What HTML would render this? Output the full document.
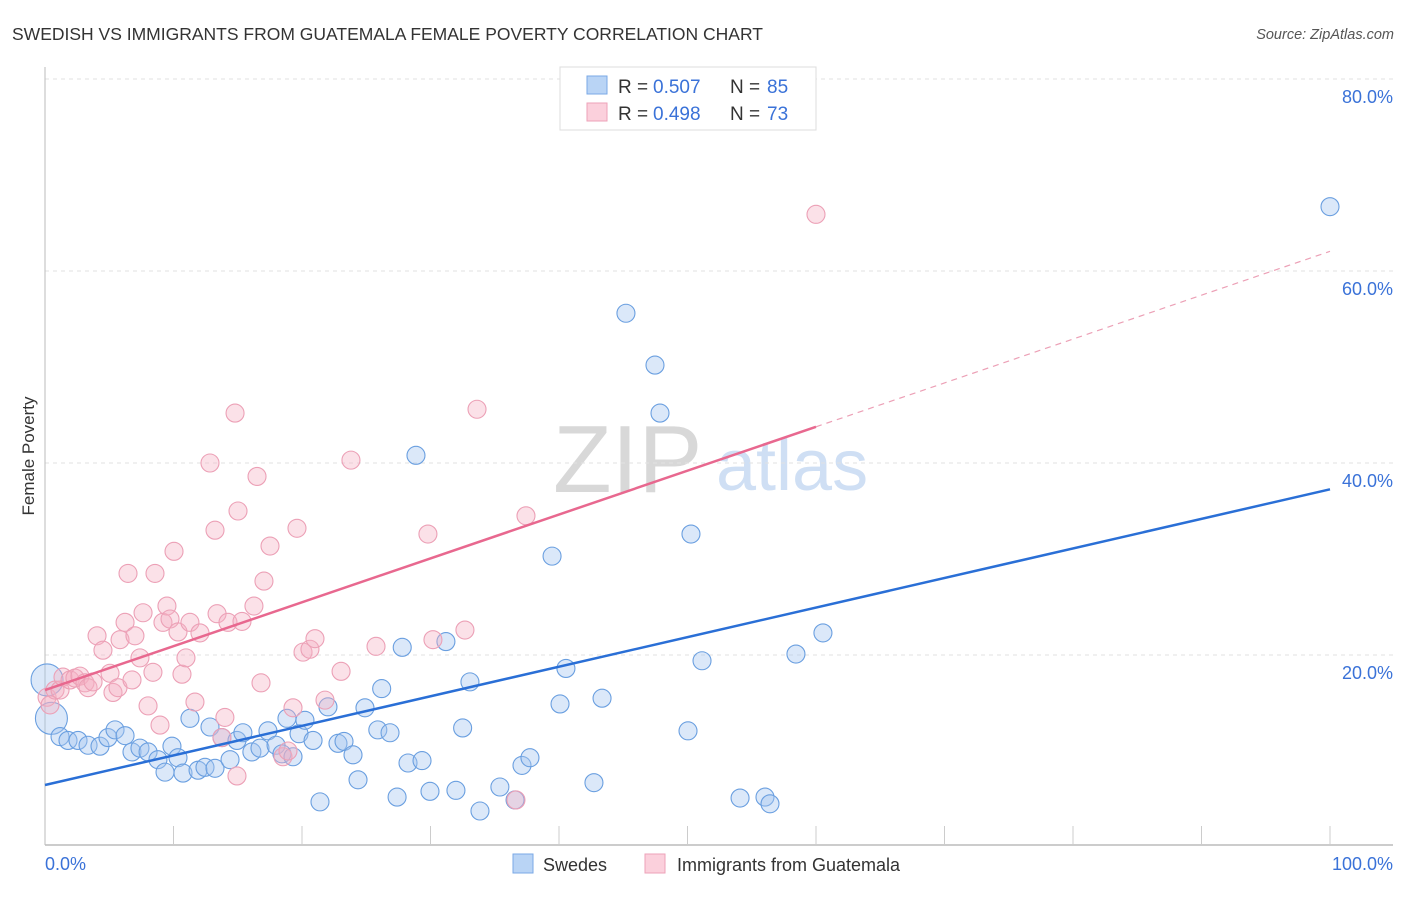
<!DOCTYPE html>
<html><head><meta charset="utf-8"><style>
body{margin:0;background:#fff;font-family:"Liberation Sans",sans-serif}
svg text{font-family:"Liberation Sans",sans-serif}
</style></head><body>
<svg id="c" width="1406" height="892">
<text x="12" y="40" font-size="17.5" fill="#333">SWEDISH VS IMMIGRANTS FROM GUATEMALA FEMALE POVERTY CORRELATION CHART</text>
<text x="1394" y="39" font-size="14.5" fill="#555" font-style="italic" text-anchor="end">Source: ZipAtlas.com</text>
<text x="34" y="456" font-size="17" fill="#333" text-anchor="middle" transform="rotate(-90 34 456)">Female Poverty</text>
<text x="553" y="492" font-size="96" fill="#d8d8d8" font-family="Liberation Serif">ZIP</text>
<text x="716" y="490" font-size="72" fill="#cfdff4">atlas</text>
<g id="grid"></g><g id="axes"></g><g id="pts"></g><g id="lines"></g>
<g>
<rect x="560" y="67" width="256" height="63" fill="#fff" stroke="#ddd"/>
<rect x="587" y="76" width="20" height="18" fill="#b9d4f5" stroke="#7aa8e6"/>
<text x="618" y="93" font-size="19" fill="#333">R =</text><text x="653" y="93" font-size="19" fill="#3a72d8">0.507</text>
<text x="730" y="93" font-size="19" fill="#333">N =</text><text x="767" y="93" font-size="19" fill="#3a72d8">85</text>
<rect x="587" y="103" width="20" height="18" fill="#fbd0dc" stroke="#eea2b8"/>
<text x="618" y="120" font-size="19" fill="#333">R =</text><text x="653" y="120" font-size="19" fill="#3a72d8">0.498</text>
<text x="730" y="120" font-size="19" fill="#333">N =</text><text x="767" y="120" font-size="19" fill="#3a72d8">73</text>
</g>
<g>
<rect x="513" y="854" width="20" height="19" fill="#b9d4f5" stroke="#7aa8e6"/>
<text x="543" y="871" font-size="18" fill="#333">Swedes</text>
<rect x="645" y="854" width="20" height="19" fill="#fbd0dc" stroke="#eea2b8"/>
<text x="677" y="871" font-size="18" fill="#333">Immigrants from Guatemala</text>
</g>
</svg>
<script>
const yTicks=[20,40,60,80];
const xTickLabels=["0.0%","100.0%"];
const blueX=[0.16,0.5,1.17,1.79,2.57,3.35,4.28,4.9,5.45,6.23,6.77,7.39,8.02,8.79,9.34,9.88,10.35,10.74,11.28,11.91,12.45,12.84,13.23,13.77,14.4,14.94,15.4,16.1,16.73,17.35,17.98,18.44,18.83,19.3,19.77,20.23,20.86,21.4,22.02,22.8,23.27,23.97,24.36,24.9,25.9,26.2,26.85,27.4,27.8,28.25,28.87,29.34,29.96,31.2,31.98,32.5,33.07,33.85,35.4,36.58,37.12,37.74,39.46,40.08,40.54,42.72,43.35,45.21,47.47,47.86,50.04,50.27,51.13,54.09,56.03,56.42,58.44,60.54,100];
const blueY=[17.4,13.4,11.5,11.1,11.1,10.6,10.5,11.4,12.2,11.6,9.9,10.3,9.9,9.1,7.8,10.5,9.3,7.7,13.4,8.0,8.3,12.5,8.2,11.4,9.1,11.1,11.9,9.9,10.3,12.1,10.6,9.7,13.4,9.4,11.8,13.2,11.1,4.7,14.6,10.8,11.0,9.6,7.0,14.5,12.2,16.5,11.9,5.2,20.8,8.75,40.8,9.0,5.8,21.4,5.9,12.4,17.2,3.75,6.25,4.9,8.5,9.3,30.3,14.9,18.6,6.7,15.5,55.6,50.2,45.2,12.1,32.6,19.4,5.1,5.2,4.5,20.1,22.3,66.7];
const pinkX=[0.16,0.39,0.78,1.17,1.4,1.95,2.33,2.72,3.11,3.35,3.74,4.05,4.51,5.06,5.29,5.68,5.84,6.23,6.46,6.77,7.0,7.39,7.63,8.02,8.4,8.56,8.95,9.18,9.49,9.73,10.04,10.35,10.66,10.97,11.28,11.67,12.06,12.84,13.23,13.39,13.77,14.0,14.24,14.79,14.94,15.02,15.33,16.26,16.5,16.81,17.04,17.51,18.52,18.91,19.3,19.61,20.08,20.62,21.01,21.79,23.04,23.81,25.76,29.8,30.19,32.68,33.62,36.65,37.43,60.0];
const pinkY=[15.6,14.8,16.35,16.35,17.7,17.4,17.6,17.8,17.1,16.6,17.2,22.0,20.5,18.1,16.1,16.6,21.6,23.4,28.5,17.4,22.0,19.7,24.4,14.7,18.2,28.5,12.7,23.4,25.1,23.75,30.8,22.4,18.0,19.7,23.4,15.1,22.3,40.0,33.0,24.3,11.4,13.5,23.4,45.2,7.4,35.0,23.5,25.1,38.6,17.1,27.7,31.35,9.4,10.0,14.5,33.2,20.3,20.6,21.7,15.3,18.3,40.3,20.9,32.6,21.6,22.6,45.6,4.9,34.5,65.9];
const blueFit=[6.46,0.308];
const pinkFit=[16.35,0.457];
const pinkSolidEnd=60;
const NS='http://www.w3.org/2000/svg';
const sx=v=>45+v*12.85, sy=v=>847-v*9.6;
function mk(t,a,p){const e=document.createElementNS(NS,t);for(const k in a)e.setAttribute(k,a[k]);p.appendChild(e);return e;}
const grid=document.getElementById('grid'),axes=document.getElementById('axes'),pts=document.getElementById('pts'),lines=document.getElementById('lines');
yTicks.forEach(t=>{
 const l=mk('line',{x1:45,x2:1393,y1:sy(t),y2:sy(t),stroke:'#e2e2e2','stroke-dasharray':'4 4'},grid);
 
 
 const tx=mk('text',{x:1393,y:sy(t)+24,'font-size':18,fill:'#3a72d8','text-anchor':'end'},axes);
 tx.textContent=t.toFixed(1)+'%';
 
 
});
const ya=mk('line',{x1:45,x2:45,y1:67,y2:845,stroke:'#bbb'},axes);


const xa=mk('line',{x1:45,x2:1393,y1:845,y2:845,stroke:'#bbb','stroke-width':1.5},axes);


for(let i=1;i<=10;i++){const tk=mk('line',{x1:sx(i*10),x2:sx(i*10),y1:826,y2:845,stroke:'#ccc'},axes);
 
 }
[[0,'start'],[100,'end']].forEach((d,i)=>{const tx=mk('text',{x:i?1393:45,y:870,'font-size':18,fill:'#3a72d8','text-anchor':d[1]},axes);tx.textContent=xTickLabels[i];
 
 });
blueX.forEach((x,i)=>{const c=mk('circle',{cx:sx(x),cy:sy(blueY[i]),r:i<2?16:9,fill:'rgba(165,198,240,0.4)',stroke:'#6a9fe0','stroke-width':1.1},pts);
 
 });
pinkX.forEach((x,i)=>{const c=mk('circle',{cx:sx(x),cy:sy(pinkY[i]),r:9,fill:'rgba(245,175,195,0.38)',stroke:'#eca0b6','stroke-width':1.1},pts);
 
 });
const bl=mk('line',{x1:sx(0),y1:sy(blueFit[0]),x2:sx(100),y2:sy(blueFit[0]+blueFit[1]*100),stroke:'#2a6fd6','stroke-width':2.5},lines);


const pl=mk('line',{x1:sx(0),y1:sy(pinkFit[0]),x2:sx(pinkSolidEnd),y2:sy(pinkFit[0]+pinkFit[1]*pinkSolidEnd),stroke:'#e8688f','stroke-width':2.5},lines);


const pd=mk('line',{x1:sx(pinkSolidEnd),y1:sy(pinkFit[0]+pinkFit[1]*pinkSolidEnd),x2:sx(100),y2:sy(pinkFit[0]+pinkFit[1]*100),stroke:'#eca0b6','stroke-width':1.2,'stroke-dasharray':'6 5'},lines);


</script>
</body></html>
